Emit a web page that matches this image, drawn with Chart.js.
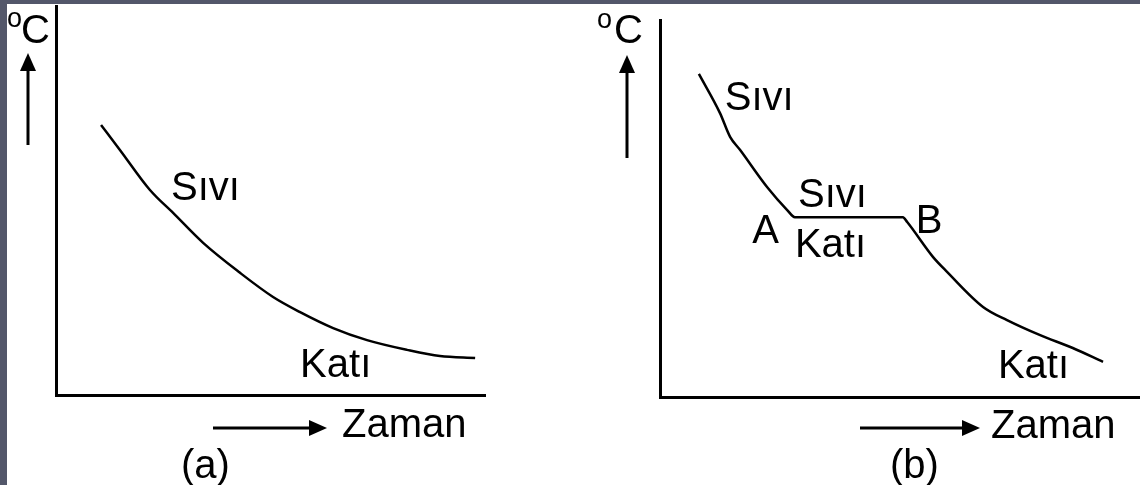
<!DOCTYPE html>
<html>
<head>
<meta charset="utf-8">
<script src="https://cdn.jsdelivr.net/npm/chart.js@4.4.1/dist/chart.umd.min.js"></script>
<style>
  html, body { margin: 0; padding: 0; }
  body { width: 1140px; height: 485px; background: #53576a; position: relative; overflow: hidden; }
  #panel { position: absolute; left: 7px; top: 4px; right: 0; bottom: 0; background: #fff; }
  canvas { position: absolute; top: 0; }
  #chartA { left: 0; }
  #chartB { left: 560px; }
</style>
</head>
<body>
<div id="panel"></div>
<canvas id="chartA" width="560" height="485"></canvas>
<canvas id="chartB" width="580" height="485"></canvas>
<script>
// (a) cooling curve of a pure substance without a plateau
let timeA = [10.5, 14.9, 21.9, 27.3, 34.3, 42.9, 50.6, 56.9, 64.6, 72.5, 81.8, 89.5, 97.7]
let tempA = [69.4, 63.0, 52.7, 46.8, 39.1, 31.4, 25.2, 21.3, 17.2, 14.1, 11.6, 10.0, 9.5]
let labelsA = ['Sıvı', 'Katı']
let labelXA = [26.8, 56.9]
let labelYA = [50.1, 4.6]

// (b) cooling curve with the solidification plateau A-B
let timeB = [8.1, 12.5, 14.6, 16.7, 22.3, 26.5, 28.1, 50.6, 51.5, 56.9, 59.8, 67.3, 72.3, 79.2, 86.0, 92.3]
let tempB = [85.7, 75.3, 69.0, 65.5, 55.7, 49.6, 47.7, 47.7, 46.4, 37.1, 33.2, 23.9, 20.4, 16.4, 13.0, 9.3]
let labelsB = ['Sıvı', 'Sıvı', 'A', 'Katı', 'B', 'Katı']
let labelXB = [13.5, 28.75, 19.2, 28.1, 53.3, 70.4]
let labelYB = [76.1, 50.4, 40.8, 37.1, 43.5, 5.0]

const FONT = '"Liberation Sans", Arial, sans-serif'

function arrow(ctx, x1, y1, x2, y2) {
  const ang = Math.atan2(y2 - y1, x2 - x1)
  const len = 18, half = 8
  ctx.beginPath()
  ctx.moveTo(x1, y1)
  ctx.lineTo(x2 - Math.cos(ang) * len, y2 - Math.sin(ang) * len)
  ctx.lineWidth = 3
  ctx.stroke()
  ctx.beginPath()
  ctx.moveTo(x2, y2)
  ctx.lineTo(x2 - Math.cos(ang) * len - Math.sin(ang) * half, y2 - Math.sin(ang) * len + Math.cos(ang) * half)
  ctx.lineTo(x2 - Math.cos(ang) * len + Math.sin(ang) * half, y2 - Math.sin(ang) * len - Math.cos(ang) * half)
  ctx.closePath()
  ctx.fill()
}

// labels on the curve plus the axis arrows, °C and Zaman captions
const decorations = {
  id: 'decorations',
  afterDatasetsDraw(chart, args, opts) {
    const ctx = chart.ctx
    const {left, top, bottom} = chart.chartArea
    const x = chart.scales.x, y = chart.scales.y
    ctx.save()
    ctx.fillStyle = '#000'
    ctx.strokeStyle = '#000'
    ctx.textAlign = 'left'
    ctx.textBaseline = 'alphabetic'
    ctx.font = '40px ' + FONT
    opts.texts.forEach((t, i) => {
      ctx.fillText(t, x.getPixelForValue(opts.tx[i]), y.getPixelForValue(opts.ty[i]))
    })
    const d = opts.deco
    // temperature arrow and unit
    arrow(ctx, left + d.upX, top + d.upFrom, left + d.upX, top + d.upTo)
    ctx.font = '27px ' + FONT
    ctx.fillText('o', left + d.degX, top + d.degY)
    ctx.font = '40px ' + FONT
    ctx.fillText('C', left + d.cX, top + d.cY)
    // time arrow and caption
    arrow(ctx, left + d.rFrom, bottom + d.rY, left + d.rTo, bottom + d.rY)
    ctx.fillText('Zaman', left + d.zX, bottom + d.zY)
    ctx.fillText(d.tag, left + d.tagX, bottom + d.tagY)
    ctx.restore()
  }
}

function makeChart(id, xs, ys, texts, tx, ty, padding, deco) {
  const ctx = document.getElementById(id).getContext('2d')
  return new Chart(ctx, {
    type: 'line',
    data: {
      datasets: [{
        data: xs.map((v, i) => ({x: v, y: ys[i]})),
        borderColor: '#000',
        borderWidth: 2.5,
        pointRadius: 0,
        fill: false,
        cubicInterpolationMode: 'monotone'
      }]
    },
    options: {
      responsive: false,
      animation: false,
      layout: { padding: padding },
      plugins: {
        legend: { display: false },
        tooltip: { enabled: false },
        decorations: { texts: texts, tx: tx, ty: ty, deco: deco }
      },
      scales: {
        x: {
          type: 'linear', min: 0, max: 100,
          grid: { display: false, drawTicks: false },
          ticks: { display: false },
          border: { display: true, width: 3, color: '#000' }
        },
        y: {
          type: 'linear', min: 0, max: 100,
          grid: { display: false, drawTicks: false },
          ticks: { display: false },
          border: { display: true, width: 3, color: '#000' }
        }
      }
    },
    plugins: [decorations]
  })
}

makeChart('chartA', timeA, tempA, labelsA, labelXA, labelYA,
  { left: 56, top: 6, right: 75, bottom: 90 },
  { upX: -28, upFrom: 139, upTo: 47, degX: -49, degY: 21, cX: -35, cY: 37,
    rFrom: 157, rTo: 271, rY: 33, zX: 286, zY: 42, tag: '(a)', tagX: 125, tagY: 83 })

makeChart('chartB', timeB, tempB, labelsB, labelXB, labelYB,
  { left: 100, top: 20, right: 0, bottom: 88 },
  { upX: -33, upFrom: 138, upTo: 35, degX: -63, degY: 8, cX: -46, cY: 23,
    rFrom: 200, rTo: 320, rY: 31, zX: 331, zY: 41, tag: '(b)', tagX: 230, tagY: 81 })
</script>
</body>
</html>
